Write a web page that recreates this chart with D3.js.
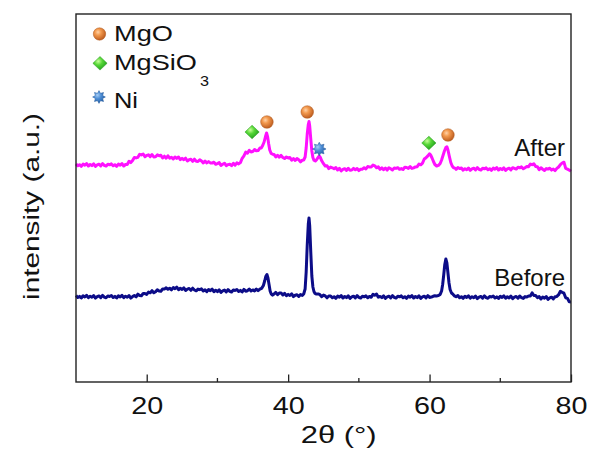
<!DOCTYPE html>
<html>
<head>
<meta charset="utf-8">
<script src="https://cdn.jsdelivr.net/npm/d3@7"></script>
<style>
  html, body { margin: 0; padding: 0; background: #fff; }
  svg { display: block; }
  text { font-family: "Liberation Sans", Arial, sans-serif; fill: #111; }
</style>
</head>
<body>
<svg id="chart" width="589" height="453"></svg>
<script>
// XRD patterns of the catalyst before and after reaction: [2θ (deg), intensity (a.u.)]
const beforeScan = [
  [10,86.4],[10.25,84.5],[10.5,85.6],[10.75,84.0],[11,86.2],[11.25,85.1],[11.5,86.7],[11.75,84.3],
  [12,85.8],[12.25,84.7],[12.5,86.5],[12.75,83.9],[13,85.4],[13.25,86.1],[13.5,84.4],[13.75,86.6],
  [14,84.9],[14.25,84.2],[14.5,86.0],[14.75,85.5],[15,86.4],[15.25,84.5],[15.5,85.6],[15.75,84.0],
  [16,86.2],[16.25,85.1],[16.5,86.7],[16.75,84.3],[17,85.8],[17.25,84.7],[17.5,86.5],[17.75,83.9],
  [18,85.4],[18.25,86.5],[18.5,85.2],[18.75,87.8],[19,86.5],[19.25,86.3],[19.5,88.5],[19.75,88.4],
  [20,87.6],[20.25,89.9],[20.5,89.2],[20.75,91.3],[21,89.2],[21.25,90.3],[21.5,92.3],[21.75,91.1],
  [22,90.8],[22.25,93.0],[22.5,92.9],[22.75,94.2],[23,92.7],[23.25,93.8],[23.5,92.2],[23.75,94.4],
  [24,93.3],[24.25,94.8],[24.5,92.3],[24.75,93.7],[25,92.5],[25.25,94.2],[25.5,91.5],[25.75,92.9],
  [26,93.5],[26.25,91.7],[26.5,93.8],[26.75,92.0],[27,91.2],[27.25,92.9],[27.5,92.3],[27.75,93.1],
  [28,91.1],[28.25,92.1],[28.5,90.4],[28.75,92.5],[29,91.3],[29.25,92.8],[29.5,90.3],[29.75,91.7],
  [30,90.4],[30.25,92.2],[30.5,89.6],[30.75,91.1],[31,91.9],[31.25,90.1],[31.5,92.4],[31.75,90.6],
  [32,89.9],[32.25,91.9],[32.5,91.6],[32.75,92.4],[33,90.5],[33.25,91.6],[33.5,90.0],[33.75,92.6],
  [34,90.8],[34.25,91.3],[34.5,92.9],[34.75,91.0],[35,92.1],[35.25,91.1],[35.5,92.9],[35.75,91.3],
  [36,92.8],[36.25,93.6],[36.5,96.5],[36.7,101.5],[36.85,105.8],[37,107.5],[37.15,104.0],[37.3,97.5],
  [37.45,91.0],[37.6,88.2],[37.8,86.9],[38,88.0],[38.25,89.6],[38.5,87.3],[38.75,88.9],[39,89.1],
  [39.25,87.0],[39.5,88.7],[39.75,86.3],[40,87.6],[40.25,86.5],[40.5,88.2],[40.75,85.4],[41,86.8],
  [41.25,87.3],[41.5,85.5],[41.75,87.5],[42,86.6],[42.2,88.0],[42.4,93.0],[42.55,110.0],[42.7,137.0],
  [42.85,158.0],[42.95,164.0],[43.05,156.0],[43.2,130.0],[43.35,106.0],[43.5,95.0],[43.65,90.5],[43.8,88.6],
  [44,87.9],[44.25,88.1],[44.5,87.3],[44.75,85.3],[45,86.9],[45.25,86.1],[45.5,84.2],[45.75,86.0],
  [46,86.1],[46.25,84.2],[46.5,85.3],[46.75,83.7],[47,85.9],[47.25,84.8],[47.5,86.4],[47.75,84.0],
  [48,85.5],[48.25,84.4],[48.5,86.2],[48.75,83.6],[49,85.1],[49.25,85.8],[49.5,84.1],[49.75,86.3],
  [50,84.6],[50.25,83.9],[50.5,85.7],[50.75,85.2],[51,86.1],[51.25,84.2],[51.5,85.6],[51.75,84.7],
  [52,87.7],[52.25,86.8],[52.5,87.9],[52.75,84.8],[53,85.5],[53.25,84.4],[53.5,86.2],[53.75,83.6],
  [54,85.1],[54.25,85.8],[54.5,84.1],[54.75,86.3],[55,84.6],[55.25,83.9],[55.5,85.7],[55.75,85.2],
  [56,86.1],[56.25,84.2],[56.5,85.3],[56.75,83.7],[57,85.9],[57.25,84.8],[57.5,86.4],[57.75,84.0],
  [58,85.5],[58.25,84.4],[58.5,86.2],[58.75,83.6],[59,85.1],[59.25,85.8],[59.5,84.1],[59.75,86.3],
  [60,84.6],[60.25,84.9],[60.5,85.7],[60.75,86.2],[61,86.1],[61.25,86.4],[61.5,87.6],[61.7,91.0],
  [61.85,97.5],[62,107.0],[62.15,117.5],[62.3,123.0],[62.45,119.0],[62.6,109.0],[62.75,99.0],[62.9,92.5],
  [63.1,89.0],[63.3,87.8],[63.5,86.2],[63.75,85.3],[64,86.5],[64.25,84.2],[64.5,85.3],[64.75,83.7],
  [65,85.8],[65.25,84.6],[65.5,86.2],[65.75,83.8],[66,85.3],[66.25,84.2],[66.5,86.0],[66.75,83.4],
  [67,84.9],[67.25,85.6],[67.5,83.9],[67.75,86.1],[68,84.4],[68.25,83.7],[68.5,85.5],[68.75,85.0],
  [69,85.9],[69.25,84.0],[69.5,85.1],[69.75,83.5],[70,85.7],[70.25,84.6],[70.5,86.2],[70.75,83.8],
  [71,85.2],[71.25,84.1],[71.5,85.9],[71.75,83.3],[72,84.8],[72.25,85.5],[72.5,83.8],[72.75,86.0],
  [73,84.3],[73.25,83.6],[73.5,85.4],[73.75,85.0],[74,86.1],[74.25,85.9],[74.5,89.1],[74.75,86.5],
  [75,86.5],[75.25,84.4],[75.5,85.4],[75.75,83.0],[76,84.9],[76.25,83.8],[76.5,85.4],[76.75,82.6],
  [77,84.1],[77.25,84.8],[77.5,83.1],[77.75,85.3],[78,85.6],[78.25,87.3],[78.5,90.7],[78.75,89.7],
  [79,88.8],[79.25,84.2],[79.5,83.6],[79.75,80.2],[80,80.1]
];

const afterScan = [
  [10,218.1],[10.25,216.2],[10.5,217.3],[10.75,215.7],[11,217.9],[11.25,216.8],[11.5,218.4],[11.75,216.0],
  [12,217.5],[12.25,216.4],[12.5,218.2],[12.75,215.6],[13,217.1],[13.25,217.8],[13.5,216.1],[13.75,218.3],
  [14,216.6],[14.25,215.9],[14.5,217.7],[14.75,217.2],[15,218.1],[15.25,216.2],[15.5,217.3],[15.75,215.7],
  [16,217.9],[16.25,216.8],[16.5,218.4],[16.75,216.0],[17,217.5],[17.25,217.5],[17.5,220.7],[17.75,219.4],
  [18,221.4],[18.25,224.6],[18.5,224.1],[18.75,224.7],[19,227.7],[19.25,227.1],[19.5,228.0],[19.75,225.2],
  [20,226.6],[20.25,227.2],[20.5,225.4],[20.75,227.4],[21,225.1],[21.25,225.2],[21.5,227.1],[21.75,226.3],
  [22,226.8],[22.25,224.0],[22.5,225.8],[22.75,223.8],[23,226.2],[23.25,223.8],[23.5,224.8],[23.75,223.0],
  [24,225.0],[24.25,223.6],[24.5,225.0],[24.75,222.4],[25,223.6],[25.25,222.3],[25.5,223.8],[25.75,221.0],
  [26,222.3],[26.25,222.7],[26.5,220.6],[26.75,222.8],[27,220.8],[27.25,220.6],[27.5,222.2],[27.75,221.0],
  [28,219.1],[28.25,221.0],[28.5,219.1],[28.75,220.4],[29,219.1],[29.25,218.9],[29.5,219.8],[29.75,217.7],
  [30,218.4],[30.25,219.4],[30.5,216.6],[30.75,217.8],[31,218.8],[31.25,216.3],[31.5,217.4],[31.75,217.8],
  [32,216.3],[32.25,218.7],[32.5,216.9],[32.75,219.1],[33,218.1],[33.25,219.4],[33.5,223.7],[33.75,226.2],
  [34,229.9],[34.25,228.9],[34.5,231.7],[34.75,230.1],[35,230.4],[35.25,232.5],[35.5,231.2],[35.75,231.4],
  [36,233.9],[36.2,234.0],[36.4,236.5],[36.6,240.0],[36.8,245.5],[36.95,249.0],[37.1,245.0],[37.25,238.0],
  [37.4,232.0],[37.6,228.5],[37.8,227.8],[38,227.6],[38.25,225.0],[38.5,226.7],[38.75,224.8],[39,226.6],
  [39.25,224.6],[39.5,223.5],[39.75,225.0],[40,224.1],[40.25,224.4],[40.5,221.8],[40.75,223.4],[41,221.5],
  [41.25,223.5],[41.5,222.3],[41.75,220.1],[42,221.8],[42.2,222.0],[42.4,225.0],[42.55,234.0],[42.7,248.0],
  [42.85,257.5],[42.95,260.5],[43.05,256.0],[43.2,243.0],[43.35,231.0],[43.5,224.5],[43.65,221.8],[43.85,221.0],
  [44.05,222.6],[44.25,224.8],[44.4,226.0],[44.55,224.6],[44.75,221.2],[45,218.3],[45.25,215.9],[45.5,216.2],
  [45.75,213.4],[46,214.9],[46.25,214.2],[46.5,213.2],[46.75,214.4],[47,212.0],[47.25,213.7],[47.5,211.1],
  [47.75,212.6],[48,213.3],[48.25,211.6],[48.5,213.7],[48.75,211.8],[49,212.0],[49.25,213.6],[49.5,212.3],
  [49.75,213.5],[50,211.4],[50.25,212.7],[50.5,212.8],[50.75,214.3],[51,213.1],[51.25,215.4],[51.5,215.1],
  [51.75,215.1],[52,217.0],[52.25,216.2],[52.5,214.2],[52.75,215.1],[53,212.6],[53.25,214.1],[53.5,212.3],
  [53.75,213.9],[54,211.9],[54.25,214.3],[54.5,213.3],[54.75,212.1],[55,214.0],[55.25,213.6],[55.5,214.3],
  [55.75,212.7],[56,213.4],[56.25,212.5],[56.5,214.8],[56.75,214.5],[57,213.6],[57.25,215.3],[57.5,213.6],
  [57.75,214.2],[58,215.1],[58.25,215.3],[58.5,217.9],[58.75,217.2],[59,218.9],[59.25,223.0],[59.5,224.3],
  [59.75,226.1],[60,228.2],[60.15,227.0],[60.35,224.0],[60.55,220.5],[60.75,217.5],[61,216.0],[61.25,216.6],
  [61.5,218.5],[61.7,222.0],[61.9,226.5],[62.1,231.0],[62.3,234.5],[62.45,235.2],[62.6,232.0],[62.8,225.5],
  [63,219.5],[63.2,216.0],[63.4,214.2],[63.6,213.9],[63.75,212.6],[64,214.5],[64.25,213.4],[64.5,214.0],
  [64.75,211.8],[65,213.3],[65.25,212.2],[65.5,214.0],[65.75,211.6],[66,213.1],[66.25,213.8],[66.5,212.1],
  [66.75,214.3],[67,212.6],[67.25,211.9],[67.5,213.7],[67.75,213.2],[68,214.1],[68.25,212.2],[68.5,213.3],
  [68.75,211.7],[69,213.9],[69.25,212.8],[69.5,214.4],[69.75,212.0],[70,213.5],[70.25,212.4],[70.5,214.2],
  [70.75,211.6],[71,213.1],[71.25,213.8],[71.5,212.1],[71.75,214.3],[72,213.6],[72.25,212.9],[72.5,214.7],
  [72.75,214.2],[73,215.1],[73.25,213.2],[73.5,214.3],[73.75,215.4],[74,215.3],[74.25,217.9],[74.5,217.3],
  [74.75,218.2],[75,215.6],[75.25,215.3],[75.5,212.4],[75.75,214.2],[76,212.8],[76.25,211.6],[76.5,213.4],
  [76.75,212.9],[77,213.8],[77.25,211.9],[77.5,213.0],[77.75,211.4],[78,213.6],[78.25,215.0],[78.5,217.4],
  [78.75,219.0],[79,219.8],[79.25,213.6],[79.5,212.8],[79.75,211.9],[80,210.8]
];

// Phase markers placed over the reflections of the "After" pattern: [2θ, intensity]
const mgoMarks = [[37.0, 260], [42.7, 270], [62.6, 247]];
const mgsio3Marks = [[34.9, 250], [59.9, 239]];
const niMarks = [[44.4, 233]];

const xTicks = [20, 40, 60, 80];
const xMinorTicks = [30, 50, 70];
const legendItems = ["MgO", "MgSiO", "Ni"];
const seriesNames = ["After", "Before"];

const W = 589, H = 453;
const margin = { left: 76, right: 18, top: 14, bottom: 71 };
const x = d3.scaleLinear().domain([10, 80]).range([margin.left, W - margin.right]);
const y = d3.scaleLinear().domain([0, 368]).range([H - margin.bottom, margin.top]);

const svg = d3.select("#chart");
const defs = svg.append("defs");

// horizontal stretch factor that brings a text element to a given width
function widen(sel, width) {
  const n = sel.node().getComputedTextLength();
  return n > 0 ? width / n : 1;
}
// text placed at (px, py) and widened to a set width around its anchor
function wideText(parent, px, py, size, width, str, anchor) {
  const t = parent.append("text").attr("font-size", size)
    .attr("text-anchor", anchor || "start").text(str);
  const k = widen(t, width);
  t.attr("transform", `translate(${px},${py}) scale(${k},1)`);
  return t;
}

// shaded fills for the phase markers
function radial(id, stops) {
  const g = defs.append("radialGradient").attr("id", id)
    .attr("cx", "38%").attr("cy", "35%").attr("r", "70%");
  stops.forEach(([o, c]) => g.append("stop").attr("offset", o).attr("stop-color", c));
}
radial("gOrange", [["0%", "#ffd2a8"], ["35%", "#f39a4e"], ["100%", "#b8561a"]]);
radial("gGreen", [["0%", "#c8ff9a"], ["40%", "#55d636"], ["100%", "#1d9a1d"]]);
radial("gBlue", [["0%", "#a6cdf5"], ["40%", "#4f8fd6"], ["100%", "#1f5aa0"]]);

// 8-point star outline for Ni
function starPath(r) {
  const pts = [];
  for (let i = 0; i < 16; i++) {
    const a = Math.PI * i / 8 - Math.PI / 2;
    const rr = i % 2 === 0 ? r : r * 0.62;
    pts.push([rr * Math.cos(a), rr * Math.sin(a)]);
  }
  return "M" + pts.map(p => p.join(",")).join("L") + "Z";
}
function diamondPath(rx, ry) {
  return `M0,${-ry}L${rx},0L0,${ry}L${-rx},0Z`;
}

function drawMgO(sel, r) {
  sel.append("circle").attr("r", r).attr("fill", "url(#gOrange)")
    .attr("stroke", "#b05a20").attr("stroke-width", 0.5);
}
function drawMgSiO3(sel, r) {
  sel.append("path").attr("d", diamondPath(r * 1.05, r)).attr("fill", "url(#gGreen)")
    .attr("stroke", "#2a9a22").attr("stroke-width", 0.5);
}
function drawNi(sel, r) {
  sel.append("path").attr("d", starPath(r)).attr("fill", "url(#gBlue)")
    .attr("stroke", "#2a5f9e").attr("stroke-width", 0.5);
}

const line = d3.line().x(d => x(d[0])).y(d => y(d[1]));

svg.append("path").datum(beforeScan).attr("d", line)
  .attr("fill", "none").attr("stroke", "#0c0c88").attr("stroke-width", 3)
  .attr("stroke-linejoin", "round");
svg.append("path").datum(afterScan).attr("d", line)
  .attr("fill", "none").attr("stroke", "#ff10ff").attr("stroke-width", 3)
  .attr("stroke-linejoin", "round");

// phase markers on the pattern
mgoMarks.forEach(d => drawMgO(svg.append("g").attr("transform", `translate(${x(d[0])},${y(d[1])})`), 6.3));
mgsio3Marks.forEach(d => drawMgSiO3(svg.append("g").attr("transform", `translate(${x(d[0])},${y(d[1])})`), 6.8));
niMarks.forEach(d => drawNi(svg.append("g").attr("transform", `translate(${x(d[0])},${y(d[1])})`), 6.8));

// series labels
svg.append("text").attr("x", 565).attr("y", 156).attr("text-anchor", "end")
  .attr("font-size", 24).text(seriesNames[0]);
svg.append("text").attr("x", 565).attr("y", 286).attr("text-anchor", "end")
  .attr("font-size", 24).text(seriesNames[1]);

// legend
const lg = svg.append("g");
drawMgO(lg.append("g").attr("transform", "translate(99.5,34)"), 6.2);
drawMgSiO3(lg.append("g").attr("transform", "translate(100,63.3)"), 6.8);
drawNi(lg.append("g").attr("transform", "translate(99,97)"), 6.4);
wideText(lg, 114, 41, 22.5, 59, legendItems[0]);
wideText(lg, 114, 69.5, 22.5, 83, legendItems[1]);
wideText(lg, 200, 86, 15, 9, "3");
wideText(lg, 114, 107.5, 22.5, 24, legendItems[2]);

// frame
svg.append("rect").attr("x", margin.left).attr("y", margin.top)
  .attr("width", W - margin.left - margin.right).attr("height", H - margin.top - margin.bottom)
  .attr("fill", "none").attr("stroke", "#222").attr("stroke-width", 1.4);

// bottom axis: inward major and minor ticks
const axisG = svg.append("g").attr("transform", `translate(0,${H - margin.bottom})`);
axisG.call(d3.axisBottom(x).tickValues(xTicks).tickSize(-7.5).tickFormat(d3.format("d")));
axisG.select(".domain").remove();
axisG.selectAll(".tick line").attr("stroke", "#222").attr("stroke-width", 1.3);
axisG.selectAll(".tick text")
  .attr("y", null).attr("dy", null)
  .attr("font-size", 24.5).attr("fill", "#111")
  .attr("font-family", "'Liberation Sans', Arial, sans-serif")
  .each(function () {
    const t = d3.select(this);
    t.attr("transform", `translate(0,31.7) scale(${widen(t, 32)},1)`);
  });
axisG.selectAll(".minor").data(xMinorTicks).enter().append("line")
  .attr("x1", d => x(d)).attr("x2", d => x(d)).attr("y1", 0).attr("y2", -4)
  .attr("stroke", "#222").attr("stroke-width", 1.3);

// axis titles
wideText(svg, 338.7, 443, 24, 76, "2θ (°)", "middle");
const yTitle = svg.append("text").attr("font-size", 22).attr("text-anchor", "middle")
  .text("intensity (a.u.)");
yTitle.attr("transform", `translate(39,206.5) rotate(-90) scale(${widen(yTitle, 187)},1)`);
</script>
</body>
</html>
